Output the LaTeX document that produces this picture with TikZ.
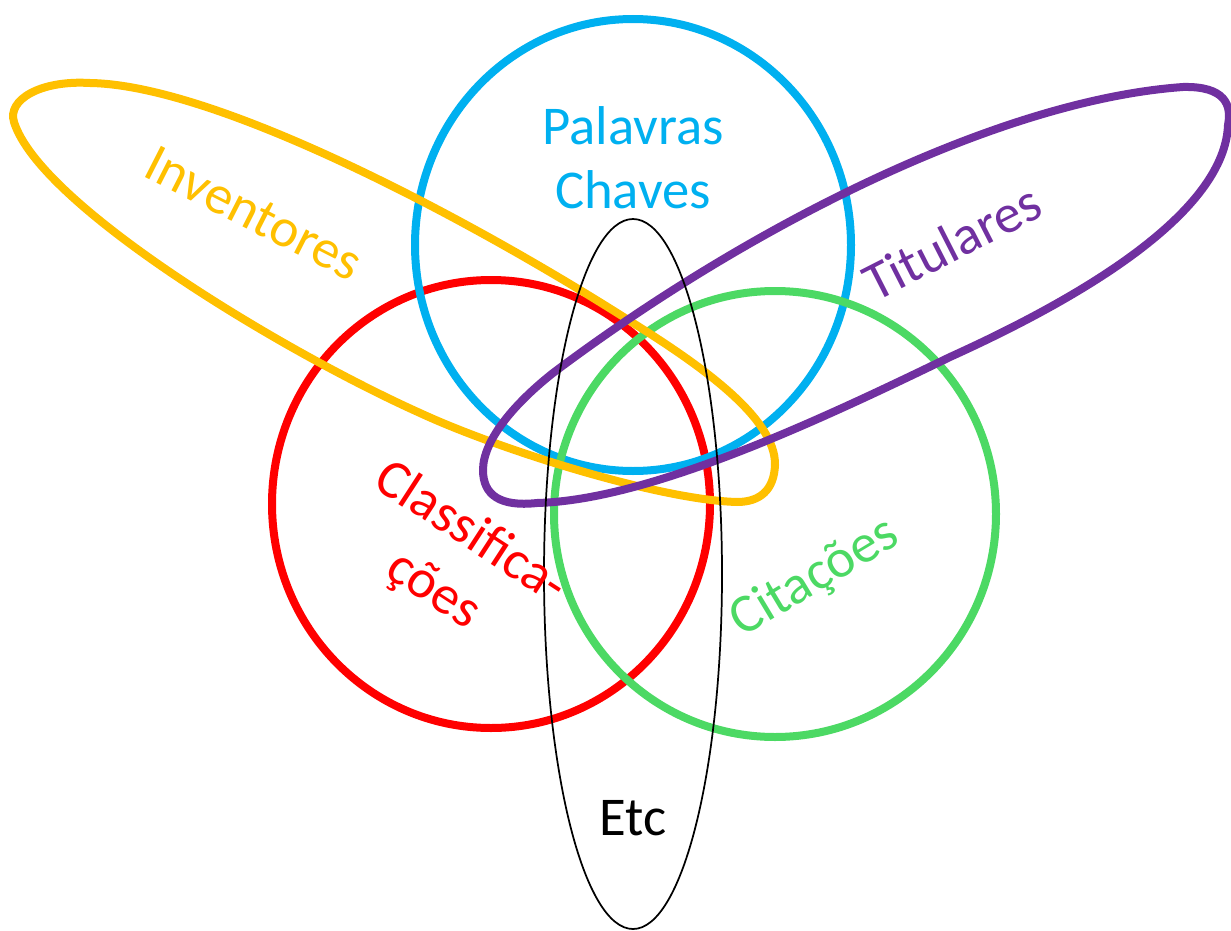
\documentclass[tikz,border=0pt]{standalone}
\usepackage{fontspec}
\setmainfont{Carlito}
\definecolor{cblue}{HTML}{00B0F0}
\definecolor{cred}{HTML}{FF0000}
\definecolor{cgreen}{HTML}{4CD964}
\definecolor{cyellow}{HTML}{FFC000}
\definecolor{cpurple}{HTML}{7030A0}
\begin{document}
\begin{tikzpicture}[x=0.75pt,y=-0.75pt,
  ring/.style={line width=6pt},
  lbl/.style={font=\fontsize{41}{48}\selectfont, align=center, inner sep=0pt}]
\useasboundingbox (0,0) rectangle (1231,931);
% circles
\draw[ring, cred] (491,504) ellipse [x radius=219, y radius=224];
\draw[ring, cblue] (633,245) ellipse [x radius=218, y radius=226];
\draw[ring, cgreen] (775,514) ellipse [x radius=221, y radius=223];
% yellow blob
\draw[ring, cyellow] (14,122) .. controls (7,100) and (40,80) .. (90,83)
  .. controls (220,85) and (480,225) .. (633,323)
  .. controls (700,365) and (776,418) .. (775,465)
  .. controls (774,490) and (760,502) .. (737,502)
  .. controls (660,500) and (500,450) .. (420,413)
  .. controls (280,350) and (40,205) .. cycle;
% purple blob
\draw[ring, cpurple] (483,470) .. controls (483,440) and (515,403) .. (553,373)
  .. controls (750,225) and (1000,100) .. (1183,87)
  .. controls (1225,86) and (1232,105) .. (1228,125)
  .. controls (1225,200) and (1120,280) .. (950,357)
  .. controls (820,420) and (650,500) .. (537,503)
  .. controls (500,507) and (483,495) .. cycle;
% black ellipse
\draw[black, line width=1.3pt] (633,574) ellipse [x radius=89, y radius=355];
% labels
\node[lbl, text=cblue] (pal) at (633,158) {Palavras\\Chaves};
\node[lbl, text=cyellow, rotate=-27] (inv) at (254,213) {Inventores};
\node[lbl, text=cpurple, rotate=27] (tit) at (952,242) {Titulares};
\node[lbl, text=cred, rotate=-33] (cla) at (452,562) {Classifica-\\[3pt]ções};
\node[lbl, text=cgreen, rotate=31] (cit) at (815,578) {Citações};
\node[lbl, text=black] (etc) at (633,818) {Etc};
\end{tikzpicture}
\end{document}
